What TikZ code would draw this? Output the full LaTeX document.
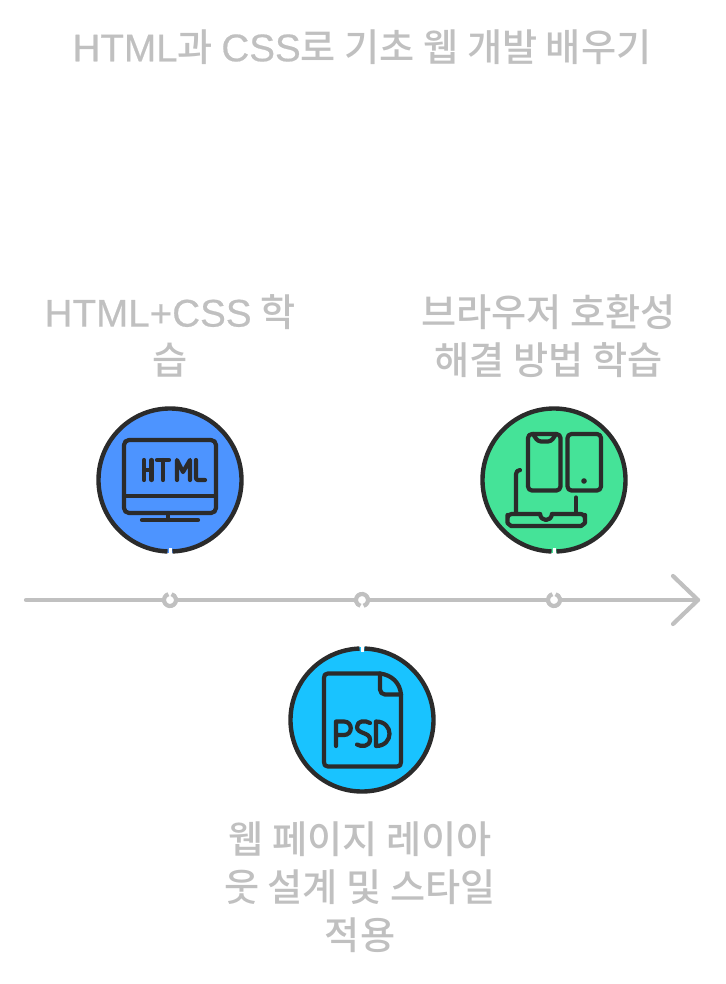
\documentclass[tikz,border=0pt]{standalone}
\usepackage{fontspec}
\setmainfont{Noto Sans CJK KR}[UprightFont=* Medium]
\newfontfamily\latfont{Liberation Sans}[FakeBold=0.5]
\newcommand{\lat}[1]{{\latfont\fontsize{38.6}{48}\selectfont #1}}
\usetikzlibrary{calc}
\definecolor{lbl}{HTML}{C0C0C0}
\definecolor{ink}{HTML}{2B2B2B}
\definecolor{cblue}{HTML}{4D94FF}
\definecolor{cgreen}{HTML}{45E398}
\definecolor{ccyan}{HTML}{19C3FF}
\tikzset{
  label text/.style={text=lbl,font=\fontsize{38.2}{48}\selectfont,align=center,inner sep=0pt},
  title text/.style={text=lbl,font=\fontsize{38.2}{48}\selectfont,align=center,inner sep=0pt},
  disc/.style={circle,minimum size=146pt,inner sep=0pt},
  dot/.style={circle,minimum size=12pt,inner sep=0pt},
  axis/.style={draw=lbl,line width=4.2pt},
  ringline/.style={draw=ink,line width=4.4pt},
  notch/.style={draw=white,line width=3pt},
  icon/.style={draw=ink,line width=4.2pt,line cap=round,line join=round},
  glyph/.style={draw=ink,line width=4.2pt,line cap=round,line join=round},
}
\begin{document}
\begin{tikzpicture}[x=1pt,y=-1pt]
\useasboundingbox (0,0) rectangle (725,984);
\node[title text] (title) at (362,47) {\lat{HTML}과 \lat{CSS}로 기초 웹 개발 배우기};
\node[label text] (t1) at (170,336) {\lat{HTML+CSS} 학\\습};
\node[label text] (t2) at (548.5,336) {브라우저 호환성\\해결 방법 학습};
\node[label text] (t3) at (360,887) {웹 페이지 레이아\\웃 설계 및 스타일\\적용};
% discs
\node[disc,fill=cblue] (d1) at (170,480) {};
\node[disc,fill=cgreen] (d2) at (554,480) {};
\node[disc,fill=ccyan] (d3) at (362,720) {};
\draw[ringline] (d1.center) ++(-88:71.5pt) arc[start angle=-88,end angle=268,radius=71.5pt];
\draw[ringline] (d2.center) ++(-88:71.5pt) arc[start angle=-88,end angle=268,radius=71.5pt];
\draw[ringline] (d3.center) ++(92:71.5pt) arc[start angle=92,end angle=448,radius=71.5pt];
\draw[notch] (d1.south) ++(0,-5) -- (d1.south);
\draw[notch] (d2.south) ++(0,-5) -- (d2.south);
\draw[notch] (d3.north) ++(0,5) -- (d3.north);
% axis
\coordinate (a0) at (26,600);
\coordinate (a1) at (698,600);
\coordinate (h0) at (673,576);
\coordinate (h1) at (673,624);
\node[dot] (r1) at (170,600) {};
\node[dot] (r2) at (362,600) {};
\node[dot] (r3) at (554,600) {};
\draw[axis,line cap=round] (a0) -- (r1.west);
\draw[axis] (r1.east) -- (r2.west);
\draw[axis] (r2.east) -- (r3.west);
\draw[axis,line cap=round] (r3.east) -- (a1);
\draw[axis,line cap=round,line join=round] (h0) -- (a1) -- (h1);
\draw[axis] (r1.center) ++(105:6pt) arc[start angle=105,end angle=435,radius=6pt];
\draw[axis] (r3.center) ++(105:6pt) arc[start angle=105,end angle=435,radius=6pt];
\draw[axis] (r2.center) ++(-75:6pt) arc[start angle=-75,end angle=255,radius=6pt];
% HTML icon
\begin{scope}
\draw[icon,rounded corners=5pt] (124,440) rectangle (216,513);
\draw[icon] (124,496) -- (216,496);
\draw[icon] (168,513) -- (168,520);
\draw[icon] (142,520) -- (198,520);
\draw[glyph] (144,460) -- (144,480) (151.5,460) -- (151.5,480) (144,470) -- (151.5,470);
\draw[glyph] (157,460) -- (169,460) (163,460) -- (163,480);
\draw[glyph] (177,480) -- (177,460) -- (183,472) -- (190,460) -- (190,480);
\draw[glyph,rounded corners=2pt] (196,460) -- (196,480) -- (205,480);
\end{scope}
% device icon
\begin{scope}
\draw[icon,rounded corners=4pt] (528,434) rectangle (560.5,490.5);
\draw[icon,rounded corners=3pt] (533,434) -- (538,441.5) -- (551,441.5) -- (556,434);
\draw[icon,rounded corners=4pt] (567.5,434) rectangle (601,490.5);
\fill[ink] (584,481) circle (2.8pt);
\draw[icon,rounded corners=4pt] (520,470) -- (516,470) -- (516,513);
\draw[icon] (576,497.5) -- (576,513);
\draw[icon,rounded corners=4pt] (540,514) -- (507.5,514) -- (507.5,519) .. controls (507.5,523) and (511,526) .. (515,526) -- (577,526) .. controls (581,526) and (585,523) .. (585,519) -- (585,514) -- (552,514);
\draw[icon] (540,514) .. controls (541,522) and (551,522) .. (552,514);
\end{scope}
% PSD icon
\begin{scope}
\draw[icon] (380,673.5) -- (328,673.5) .. controls (325,673.5) and (324,675) .. (324,678) -- (324,762) .. controls (324,765) and (325,766.5) .. (328,766.5) -- (397,766.5) .. controls (400,766.5) and (401,765) .. (401,762) -- (401,694.5) .. controls (400,683) and (392,675) .. (380,673.5);
\draw[icon,rounded corners=5pt] (380,673.5) -- (380,694.5) -- (401,694.5);
\draw[glyph] (336,746) -- (336,721.5) -- (344,721.5) .. controls (353,721.5) and (353,735) .. (344,735) -- (336,735);
\draw[glyph] (370,723) .. controls (365,720) and (357,720.5) .. (357,727) .. controls (357,734) and (370,732) .. (370,739.5) .. controls (370,747) and (361,747) .. (357,744.5);
\draw[glyph] (376,721.5) -- (376,746) .. controls (394,746) and (394,721.5) .. (376,721.5);
\end{scope}
\end{tikzpicture}
\end{document}
